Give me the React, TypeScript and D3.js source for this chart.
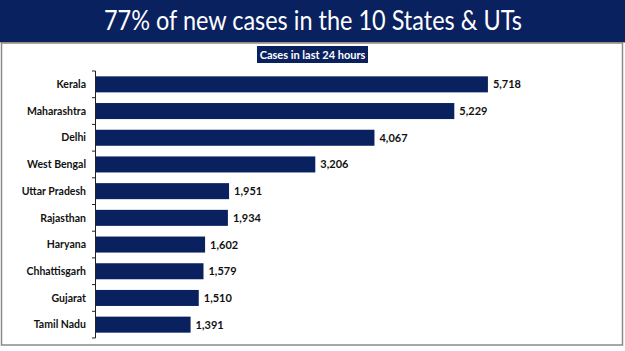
import React from "react";
import * as d3 from "d3";

const states = ["Kerala", "Maharashtra", "Delhi", "West Bengal", "Uttar Pradesh", "Rajasthan", "Haryana", "Chhattisgarh", "Gujarat", "Tamil Nadu"];
const cases = [5718, 5229, 4067, 3206, 1951, 1934, 1602, 1579, 1510, 1391];
const title = "77% of new cases in the 10 States & UTs";
const subtitle = "Cases in last 24 hours";

const W = 625;
const H = 351;
const NAVY = "#0a215f";

export default function App() {
  const x = d3.scaleLinear().domain([0, 7000]).range([95, 576]);
  const y = d3.scaleBand<string>().domain(states).range([71, 338]).paddingInner(0.4).paddingOuter(0.2);
  const fmt = d3.format(",");
  const font = "Lato, 'Open Sans', sans-serif";
  const boundaries = d3.range(states.length + 1).map((i) => 71 + i * ((338 - 71) / states.length));

  return (
    <svg width={W} height={H} style={{ position: "absolute", left: 0, top: 0, display: "block" }}>
      <rect x={0} y={0} width={W} height={42} fill={NAVY} />
      <line x1={0} x2={W} y1={42.5} y2={42.5} stroke="#c8955a" strokeWidth={1.2} />
      <rect x={1.5} y={43} width={621} height={302} fill="none" stroke="#8a8a8a" strokeWidth={1.5} />
      <text x={104} y={30} textAnchor="start" fill="#fff" fontFamily={font} fontSize={27} textLength={418} lengthAdjust="spacingAndGlyphs">{title}</text>
      <rect x={257} y={46} width={111} height={17} fill={NAVY} />
      <text x={312.5} y={58.5} textAnchor="middle" fill="#fff" fontFamily={font} fontWeight="bold" fontSize={11}>{subtitle}</text>
      {states.map((s, i) => (
        <g key={s}>
          <rect x={x(0)} y={y(s)!} width={x(cases[i]) - x(0)} height={y.bandwidth()} fill={NAVY} />
          <text x={86} y={y(s)! + y.bandwidth() / 2} dy="0.35em" textAnchor="end" fontFamily={font} fontWeight="bold" fontSize={10.5} fill="#111">{s}</text>
          <text x={x(cases[i]) + 5} y={y(s)! + y.bandwidth() / 2} dy="0.36em" textAnchor="start" fontFamily={font} fontWeight="bold" fontSize={11} fill="#111">{fmt(cases[i])}</text>
        </g>
      ))}
      <line x1={95.5} x2={95.5} y1={71} y2={338} stroke="#222" strokeWidth={1} />
      {boundaries.map((b, i) => (
        <line key={i} x1={92} x2={95.5} y1={b} y2={b} stroke="#222" strokeWidth={1} />
      ))}
    </svg>
  );
}
